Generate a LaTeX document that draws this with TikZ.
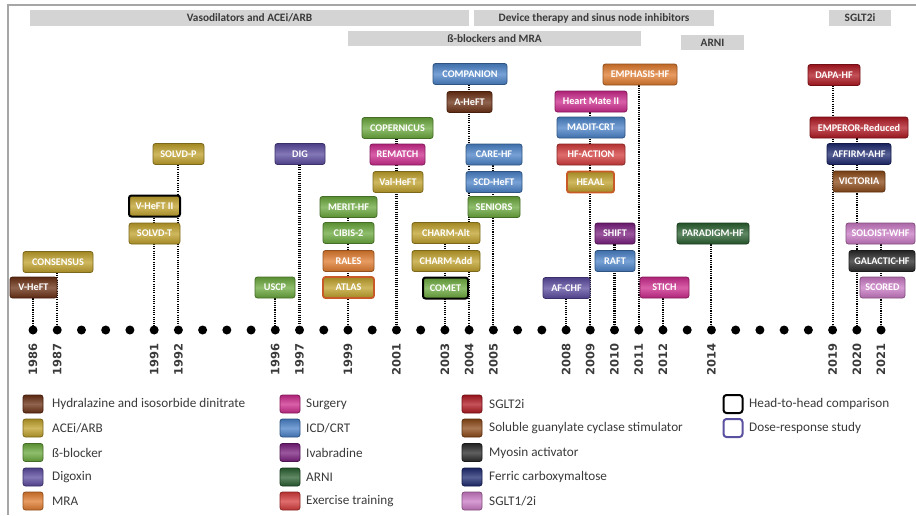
\documentclass[tikz,border=0pt]{standalone}
\usepackage{fontspec}
\setmainfont{Carlito}
\newfontfamily\yearfamily{DejaVu Sans}
\usetikzlibrary{backgrounds,calc}
\definecolor{hyd}{HTML}{6B3014}
\definecolor{ace}{HTML}{BFA02A}
\definecolor{bb}{HTML}{6AA83C}
\definecolor{dig}{HTML}{5B4A9E}
\definecolor{mra}{HTML}{E07B2E}
\definecolor{surg}{HTML}{CC2A8C}
\definecolor{icd}{HTML}{4A82C8}
\definecolor{iva}{HTML}{7A1F7E}
\definecolor{arni}{HTML}{2A6030}
\definecolor{ex}{HTML}{D43C3C}
\definecolor{sglt}{HTML}{B01822}
\definecolor{sgc}{HTML}{8C4A18}
\definecolor{myo}{HTML}{2A2A2A}
\definecolor{fcm}{HTML}{1E2A70}
\definecolor{sgltot}{HTML}{C97AC4}
\definecolor{dosecol}{HTML}{C85A28}
\definecolor{doselg}{HTML}{5A50A0}
\definecolor{bargray}{HTML}{D4D4D4}
\definecolor{txtgray}{HTML}{3A3A3A}
\tikzset{
  trial/.style={rounded corners=2.5pt, minimum height=21pt, inner sep=1pt,
    text=white, font=\fontsize{10.2}{11}\selectfont\bfseries,
    top color=#1!85!black, bottom color=#1!85!black, middle color=#1!75!white,
    draw=#1!65!black, line width=0.8pt},
  headtohead/.style={draw=black, line width=2pt},
  doseresp/.style={draw=dosecol, line width=1.8pt},
  topbar/.style={fill=bargray, inner sep=0pt, text=txtgray,
    font=\fontsize{11.3}{12}\selectfont\bfseries},
  tdot/.style={circle, fill=black, minimum size=9pt, inner sep=0pt},
  yearlab/.style={rotate=90, anchor=east, inner sep=0pt,
    font=\yearfamily\bfseries\fontsize{11.5}{12}\selectfont, text=txtgray},
  dotline/.style={line width=2.1pt, dash pattern=on 1.1pt off 1.1pt, black},
  swatch/.style={rounded corners=2.5pt, minimum width=20pt, minimum height=18pt,
    inner sep=0pt, top color=#1!85!black, bottom color=#1!85!black,
    middle color=#1!75!white, draw=#1!65!black, line width=0.8pt},
  oswatch/.style={rounded corners=3pt, minimum width=19pt, minimum height=18pt,
    inner sep=0pt, draw=#1, line width=2pt, fill=white},
  legtext/.style={anchor=west, inner sep=0pt, text=txtgray,
    font=\fontsize{13.2}{14}\selectfont}
}
\begin{document}
\begin{tikzpicture}[x=1pt,y=-1pt]
\useasboundingbox (0,0) rectangle (916,515);
\draw[gray!70, line width=1.5pt] (8,515) -- (8,5) -- (916,5);

% top bars
\node[topbar, minimum width=439pt, minimum height=16pt] (bvaso) at (249.5,18) {Vasodilators and ACEi/ARB};
\node[topbar, minimum width=293pt, minimum height=15pt] (bbeta) at (494.5,38.5) {ß-blockers and MRA};
\node[topbar, minimum width=240pt, minimum height=16pt] (bdev) at (594,18) {Device therapy and sinus node inhibitors};
\node[topbar, minimum width=63pt, minimum height=15pt] (barni) at (712.5,42.5) {ARNI};
\node[topbar, minimum width=62pt, minimum height=16pt] (bsglt) at (860,18) {SGLT2i};

% timeline dots
\foreach \yr in {1986,...,2021}{
  \pgfmathsetmacro\xx{33+24.23*(\yr-1986)}
  \node[tdot] (d\yr) at (\xx,330) {};
}
\foreach \yr in {1986,1987,1991,1992,1996,1997,1999,2001,2003,2004,2005,2008,2009,2010,2011,2012,2014,2019,2020,2021}{
  \node[yearlab] (y\yr) at ([yshift=-8.5pt]d\yr.south) {\yr};
}

% trials
\node[trial=hyd, minimum width=47pt] (vheft) at (33.5,287.5) {V-HeFT};
\node[trial=ace, minimum width=70pt] (consensus) at (58,262) {CONSENSUS};
\node[trial=ace, minimum width=51pt] (solvdt) at (154.5,233.5) {SOLVD-T};
\node[trial=ace, minimum width=51pt, headtohead] (vhefttwo) at (154.5,206) {V-HeFT II};
\node[trial=ace, minimum width=51pt] (solvdp) at (178.5,154) {SOLVD-P};
\node[trial=bb, minimum width=40pt] (uscp) at (275,287.5) {USCP};
\node[trial=dig, minimum width=50pt] (dig) at (300,154) {DIG};
\node[trial=ace, minimum width=51pt, doseresp] (atlas) at (348.5,287.5) {ATLAS};
\node[trial=mra, minimum width=51pt] (rales) at (348.5,261) {RALES};
\node[trial=bb, minimum width=51pt] (cibis) at (348.5,233) {CIBIS-2};
\node[trial=bb, minimum width=57pt] (merit) at (348.5,207) {MERIT-HF};
\node[trial=ace, minimum width=50pt] (valheft) at (398,182) {Val-HeFT};
\node[trial=surg, minimum width=55pt] (rematch) at (397.5,154.5) {REMATCH};
\node[trial=bb, minimum width=71pt] (copernicus) at (397.5,128) {COPERNICUS};
\node[trial=bb, minimum width=45pt, headtohead] (comet) at (445.5,288) {COMET};
\node[trial=ace, minimum width=68pt] (charmadd) at (446,261) {CHARM-Add};
\node[trial=ace, minimum width=68pt] (charmalt) at (446,233) {CHARM-Alt};
\node[trial=hyd, minimum width=45pt] (aheft) at (469.5,102) {A-HeFT};
\node[trial=icd, minimum width=74pt] (companion) at (470,74) {COMPANION};
\node[trial=icd, minimum width=56pt] (carehf) at (494,154.5) {CARE-HF};
\node[trial=icd, minimum width=56pt] (scdheft) at (494,182) {SCD-HeFT};
\node[trial=bb, minimum width=52pt] (seniors) at (494,207) {SENIORS};
\node[trial=dig, minimum width=47pt] (afchf) at (566.5,288) {AF-CHF};
\node[trial=ace, minimum width=47pt, doseresp] (heaal) at (590.5,182) {HEAAL};
\node[trial=ex, minimum width=68pt] (hfaction) at (591,154.5) {HF-ACTION};
\node[trial=icd, minimum width=68pt] (maditcrt) at (591,127.5) {MADIT-CRT};
\node[trial=surg, minimum width=72pt] (heartmate) at (591,101.5) {Heart Mate II};
\node[trial=mra, minimum width=74pt] (emphasis) at (640,74.5) {EMPHASIS-HF};
\node[trial=iva, minimum width=40pt] (shift) at (615,233.5) {SHIFT};
\node[trial=icd, minimum width=40pt] (raft) at (615,261) {RAFT};
\node[trial=surg, minimum width=49pt] (stich) at (664.5,287.5) {STICH};
\node[trial=arni, minimum width=72pt] (paradigm) at (713,233.5) {PARADIGM-HF};
\node[trial=sglt, minimum width=52pt] (dapa) at (834,75) {DAPA-HF};
\node[trial=sglt, minimum width=98pt] (emperor) at (859,127.5) {EMPEROR-Reduced};
\node[trial=fcm, minimum width=64pt] (affirm) at (859,154) {AFFIRM-AHF};
\node[trial=sgc, minimum width=52pt] (victoria) at (859,181.5) {VICTORIA};
\node[trial=sgltot, minimum width=69pt] (soloist) at (880.5,233.5) {SOLOIST-WHF};
\node[trial=myo, minimum width=66pt] (galactic) at (882,261) {GALACTIC-HF};
\node[trial=sgltot, minimum width=45pt] (scored) at (882.5,287.5) {SCORED};

% dotted connectors (behind boxes)
\begin{pgfonlayer}{background}
\foreach \b/\yr in {vheft/1986, consensus/1987, vhefttwo/1991, solvdp/1992, uscp/1996,
  dig/1997, merit/1999, copernicus/2001, charmalt/2003, companion/2004, carehf/2005,
  afchf/2008, heartmate/2009, shift/2010, emphasis/2011, stich/2012, paradigm/2014,
  dapa/2019, emperor/2020, soloist/2021}{
  \draw[dotline] (d\yr |- \b.south) -- (d\yr.center);
}
\end{pgfonlayer}

% legend
\node[swatch=hyd] (s1) at (33,404) {};
\node[legtext] (l1) at (52,404) {Hydralazine and isosorbide dinitrate};
\node[swatch=ace] (s2) at (33,428) {};
\node[legtext] (l2) at (52,428) {ACEi/ARB};
\node[swatch=bb] (s3) at (33,452.5) {};
\node[legtext] (l3) at (52,452.5) {ß-blocker};
\node[swatch=dig] (s4) at (33,477) {};
\node[legtext] (l4) at (52,477) {Digoxin};
\node[swatch=mra] (s5) at (33,501) {};
\node[legtext] (l5) at (52,501) {MRA};

\node[swatch=surg] (s6) at (290,404) {};
\node[legtext] (l6) at (306,404) {Surgery};
\node[swatch=icd] (s7) at (290,428) {};
\node[legtext] (l7) at (306,428) {ICD/CRT};
\node[swatch=iva] (s8) at (290,452.5) {};
\node[legtext] (l8) at (306,452.5) {Ivabradine};
\node[swatch=arni] (s9) at (290,477) {};
\node[legtext] (l9) at (306,477) {ARNI};
\node[swatch=ex] (s10) at (290,501) {};
\node[legtext] (l10) at (306,501) {Exercise training};

\node[swatch=sglt] (s11) at (472,404) {};
\node[legtext] (l11) at (489,404) {SGLT2i};
\node[swatch=sgc] (s12) at (472,428) {};
\node[legtext] (l12) at (489,428) {Soluble guanylate cyclase stimulator};
\node[swatch=myo] (s13) at (472,452.5) {};
\node[legtext] (l13) at (489,452.5) {Myosin activator};
\node[swatch=fcm] (s14) at (472,477) {};
\node[legtext] (l14) at (489,477) {Ferric carboxymaltose};
\node[swatch=sgltot] (s15) at (472,501) {};
\node[legtext] (l15) at (489,501) {SGLT1/2i};

\node[oswatch=black] (s16) at (733,404) {};
\node[legtext] (l16) at (749,404) {Head-to-head comparison};
\node[oswatch=doselg] (s17) at (733,428) {};
\node[legtext] (l17) at (749,428) {Dose-response study};
\end{tikzpicture}
\end{document}
